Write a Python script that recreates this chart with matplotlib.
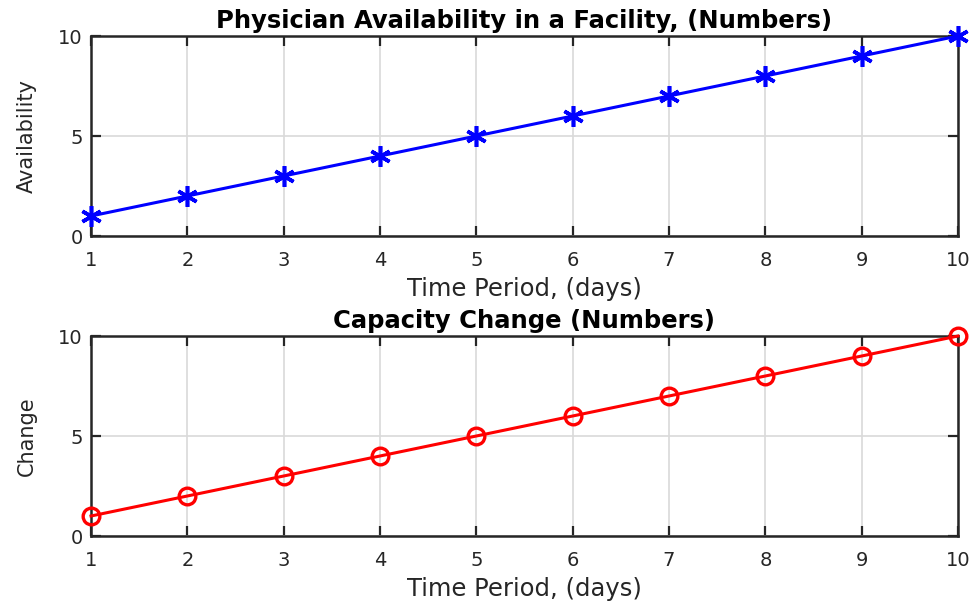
import matplotlib
matplotlib.use("Agg")
import matplotlib.pyplot as plt

days = [1, 2, 3, 4, 5, 6, 7, 8, 9, 10]
availability = [1, 2, 3, 4, 5, 6, 7, 8, 9, 10]
change = [1, 2, 3, 4, 5, 6, 7, 8, 9, 10]
xticks = [1, 2, 3, 4, 5, 6, 7, 8, 9, 10]
yticks = [0, 5, 10]

plt.rcParams['font.family'] = ['DejaVu Sans']

fig = plt.figure(figsize=(9.78, 6.05), dpi=100)
ax1 = fig.add_axes([91/978, 1-236/605, 867/978, 200/605])
ax2 = fig.add_axes([91/978, 1-536/605, 867/978, 200/605])

specs = [
    (ax1, availability, 'b', '*', 'Physician Availability in a Facility, (Numbers)', 'Availability'),
    (ax2, change, 'r', 'o', 'Capacity Change (Numbers)', 'Change'),
]
for ax, y, c, m, title, ylab in specs:
    if m == '*':
        ax.plot(days, y, color=c, lw=2.2, marker=(6, 2, 0), ms=15, mew=2.6, mec=c,
                zorder=3, clip_on=False)
    else:
        ax.plot(days, y, color=c, lw=2.2, marker='o', ms=12, mew=2.4, mfc='none', mec=c,
                zorder=3, clip_on=False)
    ax.set_xlim(1, 10)
    ax.set_ylim(0, 10)
    ax.set_xticks(xticks)
    ax.set_yticks(yticks)
    ax.grid(True, color='#d9d9d9', lw=1.2)
    ax.set_axisbelow(True)
    ax.tick_params(direction='in', length=7, width=1.6, top=True, right=True,
                   labelsize=14, colors='#262626')
    ax.tick_params(axis='x', pad=11)
    ax.tick_params(axis='y', pad=6)
    for s in ax.spines.values():
        s.set_linewidth(1.8)
        s.set_color('#262626')
    ax.set_title(title, fontsize=17.5, fontweight='bold', pad=6)
    ax.set_xlabel('Time Period, (days)', fontsize=17.5, color='#262626', labelpad=5)
    ax.set_ylabel(ylab, fontsize=15, color='#262626', labelpad=15)

fig.savefig('out.png', dpi=100)
